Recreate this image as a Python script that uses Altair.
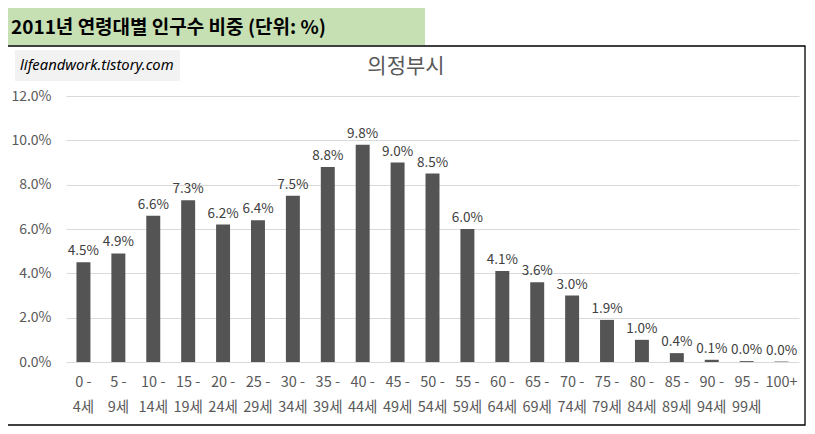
import altair as alt
import pandas as pd

categories = ["0 -|4세", "5 -|9세", "10 -|14세", "15 -|19세", "20 -|24세", "25 -|29세",
              "30 -|34세", "35 -|39세", "40 -|44세", "45 -|49세", "50 -|54세", "55 -|59세",
              "60 -|64세", "65 -|69세", "70 -|74세", "75 -|79세", "80 -|84세", "85 -|89세",
              "90 -|94세", "95 -|99세", "100+"]
values = [4.5, 4.9, 6.6, 7.3, 6.2, 6.4, 7.5, 8.8, 9.8, 9.0, 8.5, 6.0,
          4.1, 3.6, 3.0, 1.9, 1.0, 0.4, 0.1, 0.04, 0.02]
y_ticks = [0, 2, 4, 6, 8, 10, 12]

main_title = "2011년 연령대별 인구수 비중 (단위: %)"
chart_title = "의정부시"
watermark = "lifeandwork.tistory.com"

FONT = "Noto Sans CJK KR"
GRAY = "#595959"

df = pd.DataFrame({"age": categories, "value": values})
one = pd.DataFrame({"d": [0]})

base = alt.Chart(df).transform_calculate(
    label="format(datum.value, '.1f') + '%'"
)

x_enc = alt.X("age:N", sort=categories, title=None,
              scale=alt.Scale(paddingInner=0.6, paddingOuter=0.3),
              axis=alt.Axis(labelExpr="split(datum.label, '|')", labelAngle=0,
                            labelFont=FONT, labelFontSize=14.5, labelColor=GRAY,
                            labelLineHeight=25, labelPadding=20, labelBaseline="middle",
                            domain=False, ticks=False, grid=False, labelLimit=200))
y_enc = alt.Y("value:Q", title=None,
              scale=alt.Scale(domain=[0, 12], nice=False),
              axis=alt.Axis(values=y_ticks, labelExpr="format(datum.value, '.1f') + '%'",
                            labelFont=FONT, labelFontSize=14, labelColor=GRAY,
                            labelPadding=15, domain=False, ticks=False,
                            grid=True, gridColor="#d9d9d9", gridWidth=1))

bars = base.mark_bar(color="#545454").encode(x=x_enc, y=y_enc)
texts = base.mark_text(font=FONT, fontSize=13.5, color="#404040", baseline="bottom", dy=-4).encode(
    x=alt.X("age:N", sort=categories),
    y=alt.Y("value:Q"),
    text="label:N",
)

decor = alt.Chart(one)
border = decor.mark_rect(fillOpacity=0, stroke="black", strokeWidth=1.3).encode(
    x=alt.value(-59), x2=alt.value(739), y=alt.value(-50), y2=alt.value(329))
title_box = decor.mark_rect(fill="#c6e0b4").encode(
    x=alt.value(-59), x2=alt.value(359), y=alt.value(-88), y2=alt.value(-51))
title_text = decor.mark_text(font=FONT, fontSize=19, fontWeight="bold", color="black",
                             align="left", baseline="alphabetic").encode(
    x=alt.value(-55), y=alt.value(-62), text=alt.value(main_title))
wm_box = decor.mark_rect(fill="#f2f2f2").encode(
    x=alt.value(-51), x2=alt.value(114), y=alt.value(-46), y2=alt.value(-15))
wm_text = decor.mark_text(font="Noto Sans", fontSize=14.8, fontStyle="italic", color="black",
                          align="left", baseline="middle").encode(
    x=alt.value(-46), y=alt.value(-30), text=alt.value(watermark))
ctitle = decor.mark_text(font=FONT, fontSize=21, color=GRAY, align="center",
                         baseline="middle").encode(
    x=alt.value(340), y=alt.value(-29), text=alt.value(chart_title))

chart = alt.layer(border, title_box, title_text, wm_box, wm_text, ctitle, bars, texts).properties(
    width=733, height=266,
    autosize=alt.AutoSizeParams(type="none"),
    padding={"left": 58, "top": 88, "right": 7, "bottom": 64},
    background="white",
).configure_view(stroke=None)

chart.save("out.html", embed_options={"renderer": "svg", "actions": False})
